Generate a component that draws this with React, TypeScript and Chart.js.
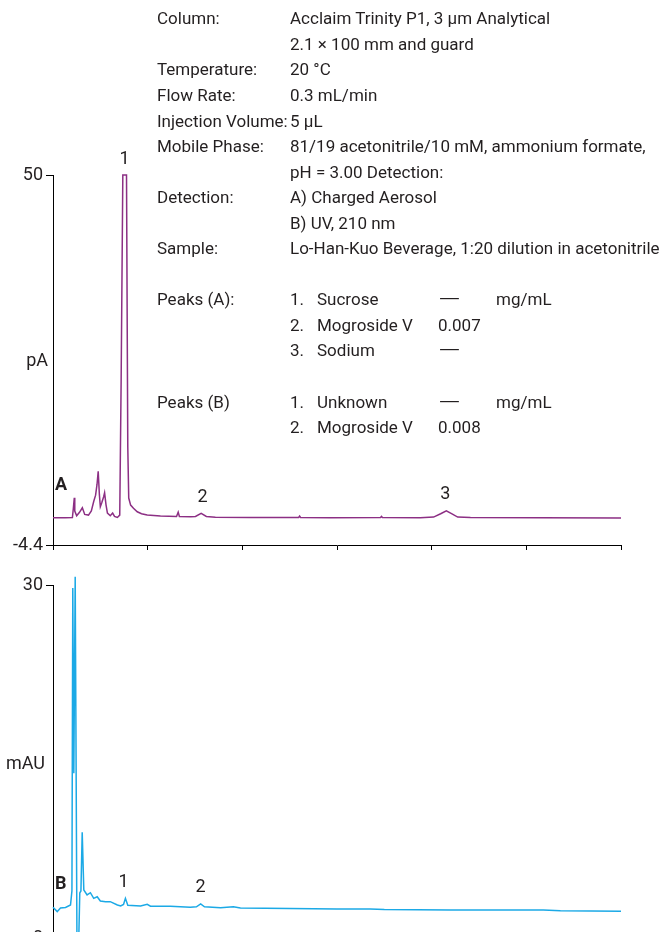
import React, { useEffect, useRef } from "react";
import { Chart, registerables } from "chart.js";

Chart.register(...registerables);

const FONT = 'Roboto, "Liberation Sans", sans-serif';
const TEXT = "#231f20";

// ---- Panel A (Charged Aerosol, pA) ----
const timesA = [0, 0.26, 0.41, 0.43, 0.45, 0.46, 0.5, 0.56, 0.62, 0.67, 0.75, 0.81, 0.86, 0.9, 0.93, 0.955, 0.98, 1.0, 1.03, 1.07, 1.09, 1.12, 1.15, 1.21, 1.26, 1.3, 1.36, 1.41, 1.44, 1.475, 1.553, 1.58, 1.6, 1.64, 1.7, 1.78, 1.87, 1.99, 2.27, 2.61, 2.645, 2.67, 2.91, 3.01, 3.13, 3.24, 3.43, 4.17, 5.19, 5.21, 5.23, 5.86, 6.92, 6.94, 6.96, 7.76, 8.04, 8.19, 8.31, 8.42, 8.55, 8.82, 10.3, 12.0];
const signalA = [-0.4, -0.38, -0.35, 1.0, 2.54, 0.6, -0.1, 0.4, 1.07, 0.1, 0.0, 0.6, 2.0, 2.93, 4.5, 6.45, 3.0, 1.22, 1.8, 2.7, 3.27, 1.5, 0.29, -0.1, 0.3, -0.2, -0.35, 0.0, 20, 50, 50, 10, 2.5, 1.47, 1.0, 0.48, 0.2, 0.0, -0.15, -0.2, 0.44, -0.2, -0.25, -0.2, 0.25, -0.2, -0.33, -0.37, -0.35, -0.15, -0.35, -0.38, -0.35, -0.2, -0.35, -0.38, -0.3, 0.2, 0.63, 0.2, -0.3, -0.37, -0.4, -0.42];
const yTicksA = [-4.4, 50];
const peakLabelsA = ["1", "2", "3"];
const peakTimesA = [1.51, 3.16, 8.29];
const peakTopsA = [50, 0.25, 0.63];

// ---- Panel B (UV 210 nm, mAU) ----
const timesB = [0, 0.089, 0.158, 0.264, 0.37, 0.4, 0.418, 0.44, 0.469, 0.507, 0.539, 0.566, 0.59, 0.617, 0.651, 0.72, 0.79, 0.86, 0.934, 1.0, 1.11, 1.21, 1.36, 1.43, 1.49, 1.53, 1.58, 1.85, 1.99, 2.06, 2.48, 2.9, 3.03, 3.12, 3.2, 3.54, 3.81, 3.96, 5.0, 6.0, 6.7, 7.0, 8.4, 9.45, 10.36, 10.72, 12];
const signalB = [2.61, 2.24, 2.55, 2.6, 2.8, 4, 29.75, 14, 30.7, -1, -1, 3.83, 4.0, 8.98, 4.08, 3.66, 3.85, 3.37, 3.51, 3.15, 3.09, 3.09, 2.81, 2.72, 2.85, 3.37, 2.78, 2.72, 2.86, 2.7, 2.7, 2.62, 2.65, 2.89, 2.65, 2.58, 2.66, 2.55, 2.5, 2.47, 2.47, 2.42, 2.38, 2.37, 2.38, 2.31, 2.27];
const yTicksB = [0, 30];
const peakLabelsB = ["1", "2"];
const peakTimesB = [1.49, 3.12];
const peakTopsB = [3.37, 2.89];

const xTicks = [0, 2, 4, 6, 8, 10, 12];

// ---- Conditions text ----
const infoLabels = ["Column:", "", "Temperature:", "Flow Rate:", "Injection Volume:", "Mobile Phase:", "", "Detection:", "", "Sample:"];
const infoValues = [
  "Acclaim Trinity P1, 3 µm Analytical",
  "2.1 × 100 mm and guard",
  "20 °C",
  "0.3 mL/min",
  "5 µL",
  "81/19 acetonitrile/10 mM, ammonium formate,",
  "pH = 3.00 Detection:",
  "A) Charged Aerosol",
  "B) UV, 210 nm",
  "Lo-Han-Kuo Beverage, 1:20 dilution in acetonitrile",
];
const peakTableA = [
  ["1.", "Sucrose", "—", "mg/mL"],
  ["2.", "Mogroside V", "0.007", ""],
  ["3.", "Sodium", "—", ""],
];
const peakTableB = [
  ["1.", "Unknown", "—", "mg/mL"],
  ["2.", "Mogroside V", "0.008", ""],
];

function peakLabelPlugin(labels: string[], times: number[], tops: number[]) {
  return {
    id: "peakLabels",
    afterDatasetsDraw(chart: any) {
      const { ctx, scales } = chart;
      ctx.save();
      ctx.font = `18px ${FONT}`;
      ctx.fillStyle = TEXT;
      ctx.textAlign = "center";
      ctx.textBaseline = "middle";
      labels.forEach((l, i) => {
        const x = scales.x.getPixelForValue(times[i]);
        const y = scales.y.getPixelForValue(tops[i]) - 16;
        ctx.fillText(l, x, y);
      });
      ctx.restore();
    },
  };
}

function makeConfig(opts: {
  times: number[];
  signal: number[];
  color: string;
  yMin: number;
  yMax: number;
  yTicks: number[];
  padTop: number;
  xHeight: number;
  plugin: any;
}): any {
  return {
    type: "line",
    data: {
      datasets: [
        {
          data: opts.times.map((t, i) => ({ x: t, y: opts.signal[i] })),
          borderColor: opts.color,
          borderWidth: 1.5,
          pointRadius: 0,
          tension: 0,
          fill: false,
          clip: false,
        },
      ],
    },
    options: {
      responsive: false,
      animation: false,
      events: [],
      layout: { padding: { top: opts.padTop, right: 49, left: 0, bottom: 0 } },
      plugins: { legend: { display: false }, tooltip: { enabled: false }, title: { display: false } },
      scales: {
        x: {
          type: "linear",
          min: 0,
          max: 12,
          afterBuildTicks: (s: any) => {
            s.ticks = xTicks.map((v) => ({ value: v }));
          },
          ticks: { display: false },
          grid: { drawOnChartArea: false, drawTicks: true, tickLength: 5, color: "#000", lineWidth: 1 },
          border: { display: true, color: "#000", width: 1 },
          afterFit: (s: any) => {
            s.height = opts.xHeight;
          },
        },
        y: {
          type: "linear",
          min: opts.yMin,
          max: opts.yMax,
          afterBuildTicks: (s: any) => {
            s.ticks = opts.yTicks.map((v) => ({ value: v }));
          },
          ticks: {
            color: TEXT,
            font: { family: FONT, size: 18 },
            padding: 3,
            callback: (v: any) => String(v),
          },
          grid: { drawOnChartArea: false, drawTicks: true, tickLength: 7, color: "#000", lineWidth: 1 },
          border: { display: true, color: "#000", width: 1 },
          afterFit: (s: any) => {
            s.width = 53;
          },
        },
      },
    },
    plugins: [opts.plugin],
  };
}

const ROW = 25.55;
const ROW0 = 18.3;

export default function App() {
  const refA = useRef<HTMLCanvasElement>(null);
  const refB = useRef<HTMLCanvasElement>(null);

  useEffect(() => {
    const a = new Chart(
      refA.current!,
      makeConfig({
        times: timesA,
        signal: signalA,
        color: "#8c2f84",
        yMin: -4.4,
        yMax: 50,
        yTicks: yTicksA,
        padTop: 175,
        xHeight: 15,
        plugin: peakLabelPlugin(peakLabelsA, peakTimesA, peakTopsA),
      })
    );
    const b = new Chart(
      refB.current!,
      makeConfig({
        times: timesB,
        signal: signalB,
        color: "#1ba9e6",
        yMin: 0,
        yMax: 30,
        yTicks: yTicksB,
        padTop: 25,
        xHeight: 22,
        plugin: peakLabelPlugin(peakLabelsB, peakTimesB, peakTopsB),
      })
    );
    return () => {
      a.destroy();
      b.destroy();
    };
  }, []);

  const txt: React.CSSProperties = {
    position: "absolute",
    fontFamily: FONT,
    fontSize: 17,
    color: TEXT,
    lineHeight: "20px",
    whiteSpace: "nowrap",
  };
  const dash: React.CSSProperties = { transform: "scaleX(1.7)", transformOrigin: "left center" };
  const rowTop = (r: number) => ROW0 + r * ROW - 10;
  const cell = (text: string, left: number, r: number, key: string) => (
    <div key={key} style={{ ...txt, left, top: rowTop(r), ...(text === "—" ? dash : {}) }}>{text}</div>
  );

  return (
    <div style={{ position: "absolute", left: 0, top: 0, width: 670, height: 932, overflow: "hidden", background: "#fff" }}>
      <canvas ref={refA} width={670} height={560} style={{ position: "absolute", left: 0, top: 0 }} />
      <canvas ref={refB} width={670} height={400} style={{ position: "absolute", left: 0, top: 560 }} />

      {infoLabels.map((l, i) => cell(l, 157, i, "l" + i))}
      {infoValues.map((v, i) => cell(v, 290, i, "v" + i))}
      {cell("Peaks (A):", 157, 11, "pa")}
      {peakTableA.map((r, i) => (
        <React.Fragment key={"pa" + i}>
          {cell(r[0], 290, 11 + i, "a0")}
          {cell(r[1], 317, 11 + i, "a1")}
          {cell(r[2], 438, 11 + i, "a2")}
          {cell(r[3], 496, 11 + i, "a3")}
        </React.Fragment>
      ))}
      {cell("Peaks (B)", 157, 15, "pb")}
      {peakTableB.map((r, i) => (
        <React.Fragment key={"pb" + i}>
          {cell(r[0], 290, 15 + i, "b0")}
          {cell(r[1], 317, 15 + i, "b1")}
          {cell(r[2], 438, 15 + i, "b2")}
          {cell(r[3], 496, 15 + i, "b3")}
        </React.Fragment>
      ))}

      <div style={{ ...txt, fontSize: 18, right: 670 - 48, top: 350 }}>pA</div>
      <div style={{ ...txt, fontSize: 18, right: 670 - 45, top: 753 }}>mAU</div>
      <div style={{ ...txt, fontSize: 18, left: 55, top: 474, fontWeight: 700 }}>A</div>
      <div style={{ ...txt, fontSize: 18, left: 55, top: 873, fontWeight: 700 }}>B</div>
    </div>
  );
}
